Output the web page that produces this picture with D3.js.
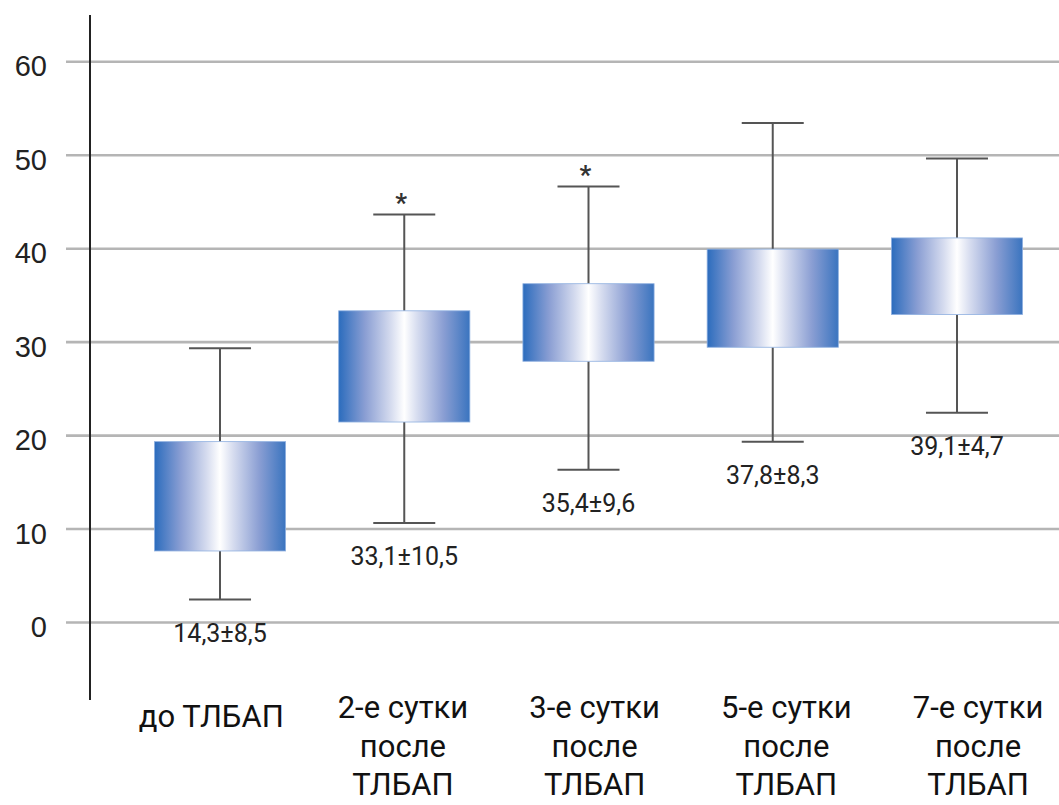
<!DOCTYPE html>
<html>
<head>
<meta charset="utf-8">
<script src="https://cdn.jsdelivr.net/npm/d3@7"></script>
<style>
  html, body { margin: 0; padding: 0; background: #fff; }
  svg { display: block; font-family: Roboto, "Open Sans", sans-serif; }
</style>
</head>
<body>
<script>
// chart data
const categories = [
  ["до ТЛБАП"],
  ["2-е сутки", "после", "ТЛБАП"],
  ["3-е сутки", "после", "ТЛБАП"],
  ["5-е сутки", "после", "ТЛБАП"],
  ["7-е сутки", "после", "ТЛБАП"]
]
const boxLow = [7.6, 21.4, 27.9, 29.4, 32.9]
const boxHigh = [19.3, 33.3, 36.2, 39.9, 41.1]
const whiskerLow = [2.4, 10.6, 16.3, 19.3, 22.4]
const whiskerHigh = [29.3, 43.6, 46.6, 53.4, 49.6]
const valueLabels = ["14,3±8,5", "33,1±10,5", "35,4±9,6", "37,8±8,3", "39,1±4,7"]
const significant = [false, true, true, false, false]
const yTicks = [0, 10, 20, 30, 40, 50, 60]

const width = 1059
const height = 805

const svg = d3.select("body")
    .append("svg")
    .attr("width", width)
    .attr("height", height)

const defs = svg.append("defs")
const grad = defs.append("linearGradient")
    .attr("id", "boxFill")
    .attr("x1", "0%").attr("x2", "100%")
    .attr("y1", "0%").attr("y2", "0%")
const stops = [
    [0, "#2b6cbd"], [0.2, "#8a9ed3"], [0.4, "#d6dcef"], [0.5, "#ffffff"],
    [0.6, "#d6dcef"], [0.8, "#8a9ed3"], [1, "#3a74bf"]
]
grad.selectAll("stop")
    .data(stops)
    .enter().append("stop")
    .attr("offset", d => d[0])
    .attr("stop-color", d => d[1])

const idx = d3.range(categories.length)

const y = d3.scaleLinear().domain([0, 60]).range([622, 61.3])
const x = d3.scalePoint().domain(idx).range([127.9, 1049.1]).padding(0.5)
const xLabel = d3.scalePoint().domain(idx).range([115.4, 1073.9]).padding(0.5)
const boxW = x.step() * 0.712
const capW = 62

// gridlines + tick labels
const gridLeft = 66
const yAxis = svg.append("g")
    .attr("transform", `translate(${gridLeft},0)`)
    .call(d3.axisLeft(y).tickValues(yTicks).tickSize(-(width - gridLeft)).tickPadding(19))
yAxis.select(".domain").remove()
yAxis.selectAll(".tick line")
    .attr("stroke", "#b5b5b5")
    .attr("stroke-width", 2.6)
yAxis.selectAll(".tick text")
    .attr("fill", "#222")
    .style("font-size", "29px")
    .attr("dy", "0.5em")

// vertical axis line
svg.append("line")
    .attr("x1", 90).attr("x2", 90)
    .attr("y1", 15).attr("y2", 700)
    .attr("stroke", "#222")
    .attr("stroke-width", 2)

const g = svg.append("g")
const whiskerStyle = sel => sel.attr("stroke", "#555").attr("stroke-width", 2)

// upper whiskers
g.selectAll(".wh-up")
    .data(idx)
    .enter().append("line")
    .attr("x1", d => x(d)).attr("x2", d => x(d))
    .attr("y1", d => y(boxHigh[d])).attr("y2", d => y(whiskerHigh[d]))
    .call(whiskerStyle)
g.selectAll(".cap-up")
    .data(idx)
    .enter().append("line")
    .attr("x1", d => x(d) - capW / 2).attr("x2", d => x(d) + capW / 2)
    .attr("y1", d => y(whiskerHigh[d])).attr("y2", d => y(whiskerHigh[d]))
    .call(whiskerStyle)

// lower whiskers
g.selectAll(".wh-down")
    .data(idx)
    .enter().append("line")
    .attr("x1", d => x(d)).attr("x2", d => x(d))
    .attr("y1", d => y(boxLow[d])).attr("y2", d => y(whiskerLow[d]))
    .call(whiskerStyle)
g.selectAll(".cap-down")
    .data(idx)
    .enter().append("line")
    .attr("x1", d => x(d) - capW / 2).attr("x2", d => x(d) + capW / 2)
    .attr("y1", d => y(whiskerLow[d])).attr("y2", d => y(whiskerLow[d]))
    .call(whiskerStyle)

// boxes
g.selectAll("rect")
    .data(idx)
    .enter().append("rect")
    .attr("x", d => x(d) - boxW / 2)
    .attr("width", boxW)
    .attr("y", d => y(boxHigh[d]))
    .attr("height", d => y(boxLow[d]) - y(boxHigh[d]))
    .attr("fill", "url(#boxFill)")
    .attr("stroke", "#8fb0e0")
    .attr("stroke-width", 0.8)

// mean ± sd labels under the lower whisker
g.selectAll(".val")
    .data(idx)
    .enter().append("text")
    .attr("class", "val")
    .attr("x", d => x(d))
    .attr("y", d => y(whiskerLow[d]) + 42)
    .attr("text-anchor", "middle")
    .attr("fill", "#222")
    .style("font-size", "25px")
    .text(d => valueLabels[d])

// significance marks
g.selectAll(".star")
    .data(idx.filter(d => significant[d]))
    .enter().append("text")
    .attr("x", d => x(d) - 3)
    .attr("y", d => y(whiskerHigh[d]) - 3)
    .attr("text-anchor", "middle")
    .attr("fill", "#333")
    .style("font-size", "26px")
    .style("font-weight", "bold")
    .text("*")

// category labels
const cat = svg.append("g")
    .selectAll("text")
    .data(idx)
    .enter().append("text")
    .attr("text-anchor", "middle")
    .attr("fill", "#111")
    .style("font-size", "31px")
    .attr("y", d => categories[d].length === 1 ? 727 : 718)

cat.selectAll("tspan")
    .data(d => categories[d].map(t => ({ t, i: d })))
    .enter().append("tspan")
    .attr("x", d => xLabel(d.i))
    .attr("dy", (d, k) => k === 0 ? 0 : 38.5)
    .text(d => d.t)
</script>
</body>
</html>
